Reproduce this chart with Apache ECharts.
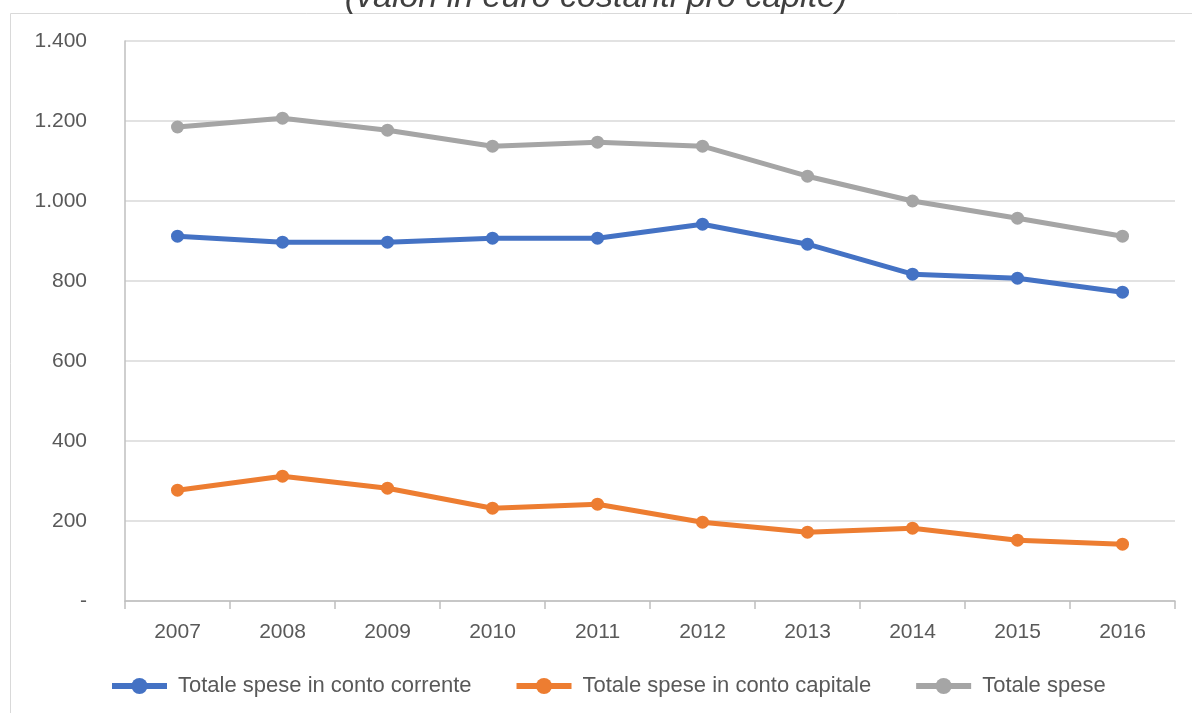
<!DOCTYPE html>
<html>
<head>
<meta charset="utf-8">
<script src="https://cdn.jsdelivr.net/npm/echarts@6/dist/echarts.min.js"></script>
<style>
  html, body { margin: 0; padding: 0; background: #fff; }
  #chart { width: 1192px; height: 713px; }
</style>
</head>
<body>
<div id="chart"></div>
<script>
const years = ['2007', '2008', '2009', '2010', '2011', '2012', '2013', '2014', '2015', '2016']
const correnti = [912, 897, 897, 907, 907, 942, 892, 817, 807, 772]
const capitale = [277, 312, 282, 232, 242, 197, 172, 182, 152, 142]
const totale = [1185, 1207, 1177, 1137, 1147, 1137, 1062, 1000, 957, 912]

const seriesNames = ['Totale spese in conto corrente', 'Totale spese in conto capitale', 'Totale spese']
const seriesColors = ['#4472C4', '#ED7D31', '#A5A5A5']

const font = 'Liberation Sans, Arial, sans-serif'

const formatY = (v) => (v === 0 ? '-' : String(v).replace(/\B(?=(\d{3})+(?!\d))/g, '.'))

const makeLine = (name, data, color) => ({
  name,
  type: 'line',
  data,
  symbol: 'circle',
  symbolSize: 13,
  itemStyle: { color },
  lineStyle: { color, width: 5 },
  z: 3
})

const chart = echarts.init(document.getElementById('chart'))
chart.setOption({
  animation: false,
  textStyle: { fontFamily: font },
  title: {
    text: '(valori in euro costanti pro capite)',
    left: 'center',
    top: -24,
    textStyle: { fontSize: 34, fontStyle: 'italic', fontWeight: 'normal', color: '#404040', fontFamily: font }
  },
  graphic: [{
    type: 'rect',
    shape: { x: 10.5, y: 13.5, width: 1200, height: 720 },
    style: { fill: 'none', stroke: '#D9D9D9', lineWidth: 1 },
    silent: true,
    z: -1
  }],
  grid: { left: 125, right: 17, top: 41, bottom: 112 },
  legend: {
    bottom: 11,
    left: 104,
    itemWidth: 55,
    itemHeight: 20,
    itemGap: 42,
    lineStyle: { width: 6 },
    textStyle: { fontSize: 22, color: '#595959', fontFamily: font, padding: [0, 0, 0, 6] },
    data: seriesNames
  },
  xAxis: {
    type: 'category',
    data: years,
    boundaryGap: true,
    axisLine: { lineStyle: { color: '#BFBFBF', width: 1.5 } },
    axisTick: { show: true, length: 8, lineStyle: { color: '#BFBFBF', width: 1.5 } },
    axisLabel: { fontSize: 21, color: '#595959', margin: 21 }
  },
  yAxis: {
    type: 'value',
    min: 0,
    max: 1400,
    interval: 200,
    axisLine: { show: true, lineStyle: { color: '#BFBFBF', width: 1.5 } },
    axisTick: { show: false },
    splitLine: { lineStyle: { color: '#D9D9D9', width: 1.5 } },
    axisLabel: { fontSize: 21, color: '#595959', margin: 38, formatter: formatY }
  },
  series: [
    makeLine(seriesNames[0], correnti, seriesColors[0]),
    makeLine(seriesNames[1], capitale, seriesColors[1]),
    makeLine(seriesNames[2], totale, seriesColors[2])
  ]
})
</script>
</body>
</html>
